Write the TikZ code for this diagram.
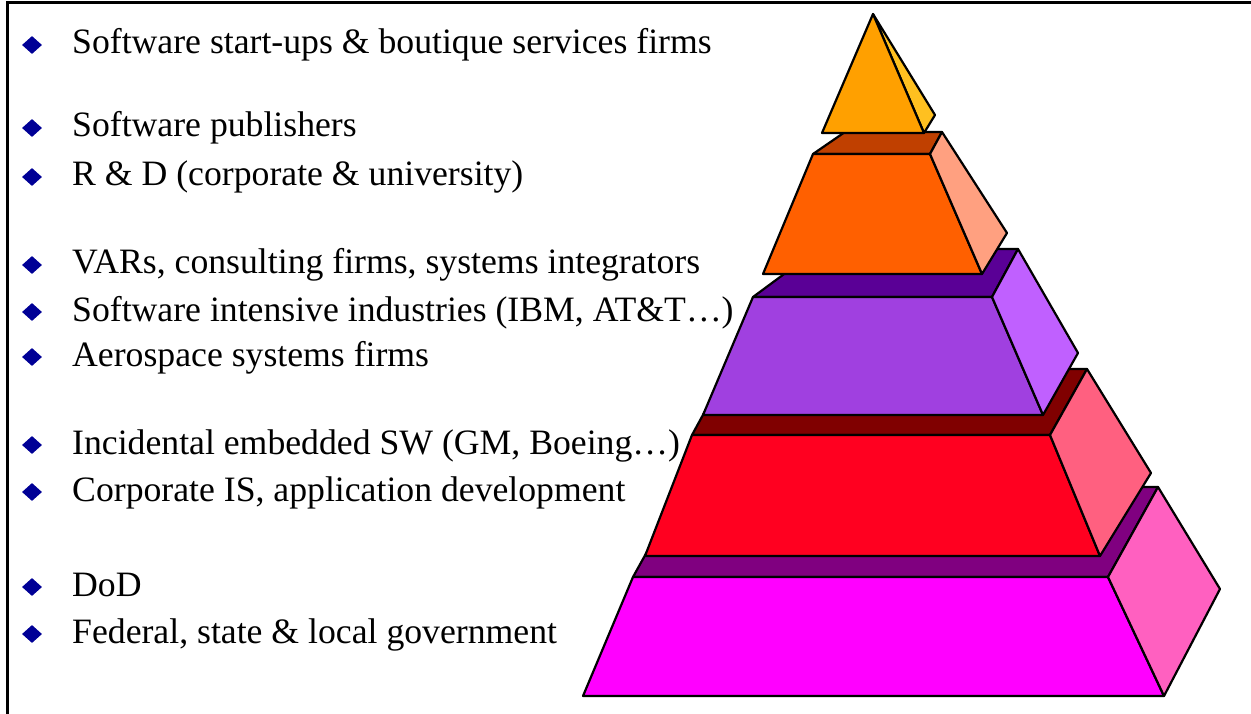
\documentclass[tikz,border=0pt]{standalone}
\usepackage{fontspec}
\setmainfont{Liberation Serif}
\usetikzlibrary{shapes.geometric}
\definecolor{bulletblue}{RGB}{0,0,150}
% tier colours: top face, front face, side face
\definecolor{apexfront}{RGB}{255,160,0}
\definecolor{apexside}{RGB}{255,192,32}
\definecolor{orangetop}{RGB}{192,64,0}
\definecolor{orangefront}{RGB}{255,96,0}
\definecolor{orangeside}{RGB}{255,160,128}
\definecolor{violettop}{RGB}{90,0,150}
\definecolor{violetfront}{RGB}{160,64,224}
\definecolor{violetside}{RGB}{192,96,255}
\definecolor{redtop}{RGB}{128,0,0}
\definecolor{redfront}{RGB}{255,0,32}
\definecolor{redside}{RGB}{255,96,128}
\definecolor{magtop}{RGB}{128,0,128}
\definecolor{magfront}{RGB}{255,0,255}
\definecolor{magside}{RGB}{255,96,192}
\begin{document}
\begin{tikzpicture}[x=1pt,y=-1pt,
  face/.style={draw=black,line width=2.2pt,line join=round},
  bulletmark/.style={diamond,fill=bulletblue,draw=none,inner sep=0pt,
    minimum width=20pt,minimum height=18pt},
  item/.style={anchor=base west,inner sep=0pt,text=black,
    font=\fontsize{35.7}{40}\selectfont}]
\useasboundingbox (0,0) rectangle (1251,714);

% frame
\draw[line width=3pt] (7,714) -- (7,3) -- (1251,3);

% bottom tier
\fill[face,fill=magtop]   (633,577) -- (683,487) -- (1158,487) -- (1108,577) -- cycle;
\fill[face,fill=magfront] (633,577) -- (1108,577) -- (1164,696) -- (583,696) -- cycle;
\fill[face,fill=magside]  (1108,577) -- (1158,487) -- (1220,589) -- (1164,696) -- cycle;

% fourth tier
\fill[face,fill=redtop]   (692,435) -- (728,369) -- (1087,369) -- (1050,435) -- cycle;
\fill[face,fill=redfront] (692,435) -- (1050,435) -- (1100,556) -- (645,556) -- cycle;
\fill[face,fill=redside]  (1050,435) -- (1087,369) -- (1151,473) -- (1100,556) -- cycle;

% third tier
\fill[face,fill=violettop]   (753,297) -- (818,249) -- (1018,249) -- (992,297) -- cycle;
\fill[face,fill=violetfront] (753,297) -- (992,297) -- (1043,415) -- (703,415) -- cycle;
\fill[face,fill=violetside]  (992,297) -- (1018,249) -- (1078,353) -- (1043,415) -- cycle;

% second tier
\fill[face,fill=orangetop]   (813,154) -- (845,132) -- (942,132) -- (930,154) -- cycle;
\fill[face,fill=orangefront] (813,154) -- (930,154) -- (982,274) -- (763,274) -- cycle;
\fill[face,fill=orangeside]  (930,154) -- (942,132) -- (1007,233) -- (982,274) -- cycle;

% apex
\fill[face,fill=apexside]  (873,14) -- (935,115) -- (924,133) -- cycle;
\fill[face,fill=apexfront] (873,14) -- (924,133) -- (822,133) -- cycle;

% bullet list
\node[bulletmark] (b1)  at (32,45)  {};
\node[bulletmark] (b2)  at (32,128) {};
\node[bulletmark] (b3)  at (32,177) {};
\node[bulletmark] (b4)  at (32,265) {};
\node[bulletmark] (b5)  at (32,312) {};
\node[bulletmark] (b6)  at (32,357) {};
\node[bulletmark] (b7)  at (32,445) {};
\node[bulletmark] (b8)  at (32,492) {};
\node[bulletmark] (b9)  at (32,587) {};
\node[bulletmark] (b10) at (32,634) {};

\node[item] (t1)  at (72,54)  {Software start-ups \& boutique services firms};
\node[item] (t2)  at (72,137) {Software publishers};
\node[item] (t3)  at (72,186) {R \& D (corporate \& university)};
\node[item] (t4)  at (72,274) {VARs, consulting firms, systems integrators};
\node[item] (t5)  at (72,321) {Software intensive industries (IBM, AT\&T\dots)};
\node[item] (t6)  at (72,366) {Aerospace systems firms};
\node[item] (t7)  at (72,454) {Incidental embedded SW (GM, Boeing\dots)};
\node[item] (t8)  at (72,501) {Corporate IS, application development};
\node[item] (t9)  at (72,596) {DoD};
\node[item] (t10) at (72,643) {Federal, state \& local government};
\end{tikzpicture}
\end{document}
